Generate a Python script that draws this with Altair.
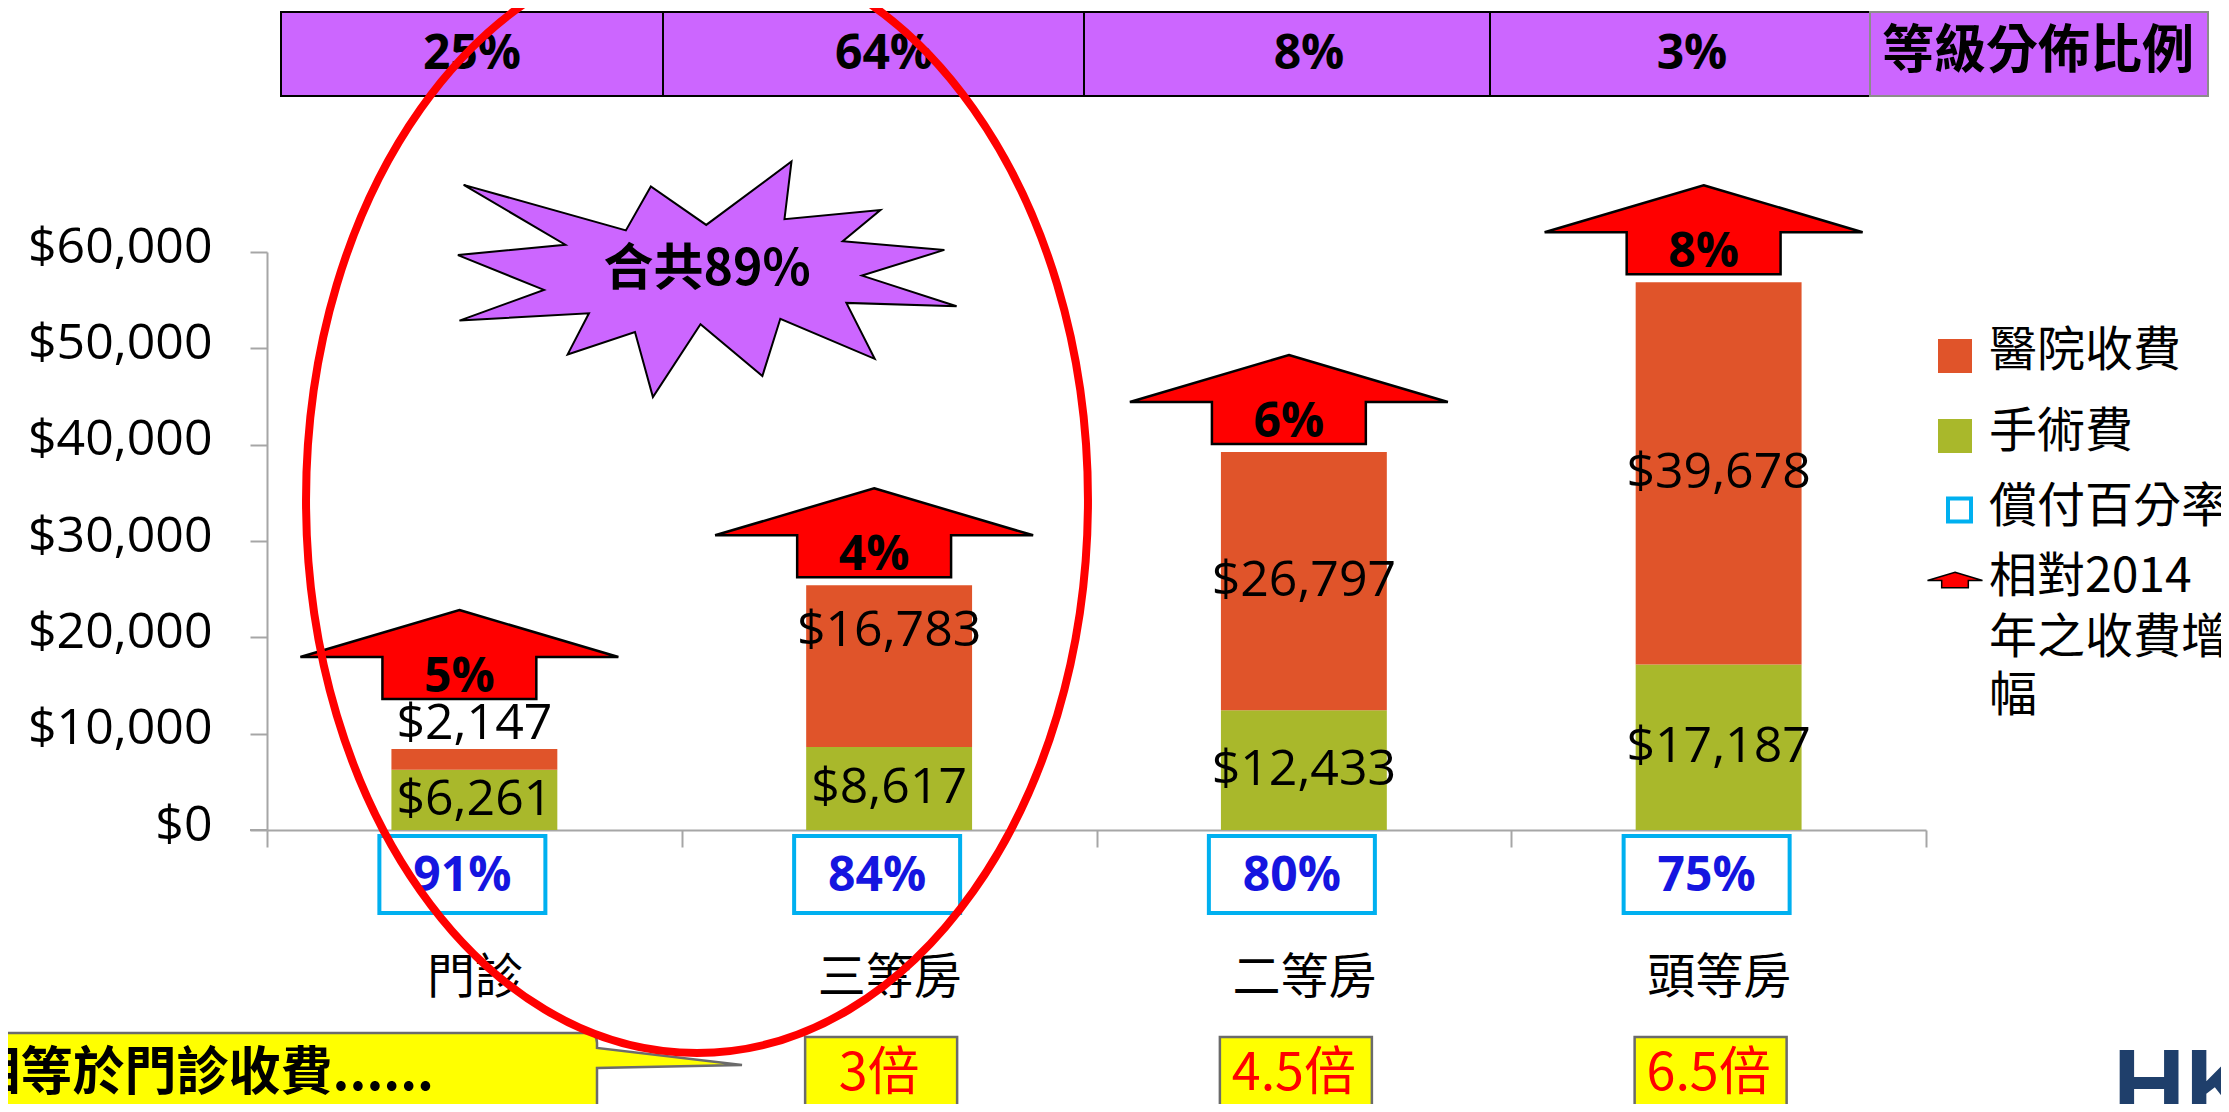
import altair as alt
import pandas as pd

# ---------------- data ----------------
categories = ["門診", "三等房", "二等房", "頭等房"]
surgery_fee = [6261, 8617, 12433, 17187]
hospital_fee = [2147, 16783, 26797, 39678]
reimbursement = ["91%", "84%", "80%", "75%"]
increase_vs_2014 = ["5%", "4%", "6%", "8%"]
times_of_outpatient = ["", "3倍", "4.5倍", "6.5倍"]
class_share = ["25%", "64%", "8%", "3%"]
class_share_title = "等級分佈比例"
combined_share = "合共89%"
callout_text = "相等於門診收費......"
fee_types = ["醫院收費", "手術費"]
legend_texts = ["醫院收費", "手術費", "償付百分率", "相對2014", "年之收費增", "幅"]
y_ticks = [0, 10000, 20000, 30000, 40000, 50000, 60000]

long_df = pd.DataFrame({
    "cat": categories * 2,
    "fee": ["手術費"] * 4 + ["醫院收費"] * 4,
    "value": surgery_fee + hospital_fee,
    "order": [0] * 4 + [1] * 4,
})
wide_df = pd.DataFrame({
    "cat": categories,
    "surgery": surgery_fee,
    "hospital": hospital_fee,
    "reimb": reimbursement,
    "incr": increase_vs_2014,
    "times": times_of_outpatient,
})
anno = pd.DataFrame({"k": [0]})

# ---------------- styles ----------------
ORANGE = "#E0542A"
GREEN = "#A9B82B"
GRAY = "#A6A6A6"
PURPLE = "#CC66FF"
CYAN = "#00B0F0"
LAT = "Open Sans"
CJK = "Noto Sans CJK TC"

W, H = 1659, 578

ARROW = "M0,-0.28L1,0.0156L0.484,0.0156L0.484,0.28L-0.484,0.28L-0.484,0.0156L-1,0.0156Z"
STAR = ("M-0.936,-0.362L-0.312,-0.187L-0.216,-0.356L-0.003,-0.208L0.325,-0.452L0.298,-0.230"
        "L0.667,-0.265L0.522,-0.145L0.913,-0.112L0.596,-0.013L0.960,0.105L0.536,0.092"
        "L0.645,0.307L0.282,0.153L0.213,0.373L-0.025,0.174L-0.208,0.454L-0.277,0.204"
        "L-0.536,0.290L-0.454,0.132L-0.952,0.160L-0.627,0.042L-0.958,-0.092L-0.545,-0.132Z")
ELLIPSE = ("M-0.707,0C-0.707,-0.5523 -0.3905,-1 0,-1C0.3905,-1 0.707,-0.5523 0.707,0"
           "C0.707,0.5523 0.3905,1 0,1C-0.3905,1 -0.707,0.5523 -0.707,0Z")
CALLOUT = ("M-0.8,-0.1175L0.7175,-0.1175Q0.7425,-0.1175 0.7425,-0.0925L0.7425,-0.08"
           "L1.105,-0.0375L0.7425,-0.03L0.7425,0.125L-0.8,0.125Z")

X_SCALE = alt.Scale(domain=categories, paddingInner=0, paddingOuter=0)
Y_SCALE = alt.Scale(domain=[0, 60000], nice=False, zero=True)


def xcat(axis=alt.Undefined):
    return alt.X("cat:N", sort=categories, scale=X_SCALE, axis=axis)


def yq(field, axis=alt.Undefined):
    return alt.Y(field, scale=Y_SCALE, axis=axis)


x_axis = alt.Axis(title=None, labelAngle=0, labelFont=CJK, labelFontSize=48,
                  labelColor="black", labelPadding=131, labelBaseline="middle",
                  labelLimit=400, tickBand="extent", tickSize=17, tickColor=GRAY,
                  tickWidth=2, domainColor=GRAY, domainWidth=2, grid=False)
y_axis = alt.Axis(title=None, values=y_ticks, format="$,.0f", labelFont=LAT,
                  labelFontSize=50, labelColor="black", labelPadding=38,
                  labelOffset=-5, labelLimit=400, tickSize=17, tickColor=GRAY,
                  tickWidth=2, domainColor=GRAY, domainWidth=2, grid=False)

layers = []

# stacked bars
stacked = alt.Chart(long_df).transform_stack(
    stack="value", groupby=["cat"], as_=["v0", "v1"],
    sort=[alt.SortField("order", order="ascending")])
layers.append(stacked.mark_bar(width=alt.RelativeBandSize(0.4)).encode(
    x=xcat(x_axis),
    y=yq("v0:Q", y_axis),
    y2="v1:Q",
    color=alt.Color("fee:N", scale=alt.Scale(domain=fee_types, range=[ORANGE, GREEN]), legend=None),
))

# x-axis line continues left to the y tick start (Excel style)
layers.append(alt.Chart(anno).mark_rule(color=GRAY, strokeWidth=2).encode(
    x=alt.value(-17), x2=alt.value(0), y=alt.value(H)))

# value labels
lbl = stacked.transform_calculate(mid="(datum.v0 + datum.v1) / 2")
lifted = "datum.fee == '醫院收費' && (datum.cat == '門診' || datum.cat == '三等房')"
for flt, dy in [("!(" + lifted + ")", 0), (lifted, -35)]:
    layers.append(lbl.transform_filter(flt).mark_text(
        font=LAT, fontSize=50, color="black", baseline="middle", yOffset=dy).encode(
        x=xcat(), y=yq("mid:Q"),
        text=alt.Text("value:Q", format="$,.0f")))

# reimbursement boxes
layers.append(alt.Chart(wide_df).mark_bar(
    width=166, xOffset=-12, fill="white", stroke=CYAN, strokeWidth=4).encode(
    x=xcat(), y=alt.value(584), y2=alt.value(661)))
layers.append(alt.Chart(wide_df).mark_text(
    font=LAT, fontWeight="bold", fontSize=48, color="#1515E0", xOffset=-12,
    baseline="middle").encode(x=xcat(), y=alt.value(625), text="reimb:N"))

# times-of-outpatient boxes
times = alt.Chart(wide_df).transform_filter("datum.times != ''")
layers.append(times.mark_bar(
    width=152, xOffset=-8, fill="#FFFF00", stroke="#6B6B6B", strokeWidth=2.5).encode(
    x=xcat(), y=alt.value(785), y2=alt.value(880)))
layers.append(times.mark_text(
    font=CJK, fontSize=52, color="#FF0000", xOffset=-10, baseline="middle").encode(
    x=xcat(), y=alt.value(822), text="times:N"))

# increase arrows
tot = alt.Chart(wide_df).transform_calculate(total="datum.surgery + datum.hospital")
for flt, ay, ty in [("datum.cat != '門診'", -52.5, -29), ("datum.cat == '門診'", -94.5, -71)]:
    sub = tot.transform_filter(flt)
    layers.append(sub.mark_point(
        shape=ARROW, size=318 ** 2, filled=True, fill="#FF0000", stroke="black",
        strokeWidth=2.5, opacity=1, xOffset=-15, yOffset=ay).encode(
        x=xcat(), y=yq("total:Q")))
    layers.append(sub.mark_text(
        font=LAT, fontWeight="bold", fontSize=48, color="black", baseline="middle",
        xOffset=-15, yOffset=ty).encode(
        x=xcat(), y=yq("total:Q"), text="incr:N"))

# top table of class share
table_edges = [14, 396, 817, 1223, 1603, 1941]
table_text_x = [205, 617, 1042, 1425, 1771]
table_texts = class_share + [class_share_title]
for i in range(5):
    layers.append(alt.Chart(anno).mark_rect(
        fill=PURPLE, stroke="black" if i < 4 else "#8C8C8C", strokeWidth=2).encode(
        x=alt.value(table_edges[i]), x2=alt.value(table_edges[i + 1]),
        y=alt.value(-240), y2=alt.value(-156)))
for i in range(5):
    layers.append(alt.Chart(anno).mark_text(
        text=table_texts[i], font=LAT if i < 4 else CJK, fontWeight="bold",
        fontSize=48 if i < 4 else 52, color="black", baseline="middle").encode(
        x=alt.value(table_text_x[i]), y=alt.value(-197 if i < 4 else -200)))

# starburst
layers.append(alt.Chart(anno).mark_point(
    shape=STAR, size=520 ** 2, filled=True, fill=PURPLE, stroke="black",
    strokeWidth=2, opacity=1).encode(x=alt.value(440), y=alt.value(27)))
layers.append(alt.Chart(anno).mark_text(
    text=combined_share, font=CJK, fontWeight="bold", fontSize=50, color="black",
    baseline="middle").encode(x=alt.value(440), y=alt.value(18)))

# legend
layers.append(alt.Chart(anno).mark_square(size=34 * 34, filled=True, color=ORANGE, opacity=1)
              .encode(x=alt.value(1688), y=alt.value(104)))
layers.append(alt.Chart(anno).mark_square(size=34 * 34, filled=True, color=GREEN, opacity=1)
              .encode(x=alt.value(1688), y=alt.value(184)))
layers.append(alt.Chart(anno).mark_square(size=23 * 23, filled=False, color=CYAN,
                                          strokeWidth=4, opacity=1)
              .encode(x=alt.value(1692.5), y=alt.value(258)))
layers.append(alt.Chart(anno).mark_point(
    shape=ARROW, size=55 ** 2, filled=True, fill="#FF0000", stroke="black",
    strokeWidth=1.5, opacity=1).encode(x=alt.value(1688), y=alt.value(328)))
for t, yy in zip(legend_texts, [100, 181, 256, 326, 387, 445]):
    layers.append(alt.Chart(anno).mark_text(
        text=t, font=CJK, fontSize=48, color="black", align="left",
        baseline="middle").encode(x=alt.value(1722), y=alt.value(yy)))

# callout
layers.append(alt.Chart(anno).mark_point(
    shape=CALLOUT, size=800 ** 2, filled=True, fill="#FFFF00", stroke="#6B6B6B",
    strokeWidth=2.5, opacity=1).encode(x=alt.value(33), y=alt.value(828)))
layers.append(alt.Chart(anno).mark_text(
    text=callout_text, font=CJK, fontWeight="bold", fontSize=52, color="black",
    align="right", baseline="middle").encode(x=alt.value(167), y=alt.value(822)))

# logo fragment
layers.append(alt.Chart(anno).mark_text(
    text="HKU", font="Liberation Sans", fontWeight="bold", fontSize=100,
    color="#1F3F6B", align="left", baseline="alphabetic").encode(
    x=alt.value(1846), y=alt.value(867)))

# red ellipse highlight
layers.append(alt.Chart(anno).mark_point(
    shape=ELLIPSE, size=1106 ** 2, filled=False, color="#FF0000", strokeWidth=8,
    opacity=1).encode(x=alt.value(430), y=alt.value(248)))

chart = alt.layer(*layers).properties(
    width=W, height=H,
    autosize=alt.AutoSizeParams(type="none"),
    padding={"left": 259, "top": 244, "right": 295, "bottom": 274},
).configure_view(strokeWidth=0)

chart.save("out.html", embed_options={"renderer": "svg", "actions": False})
